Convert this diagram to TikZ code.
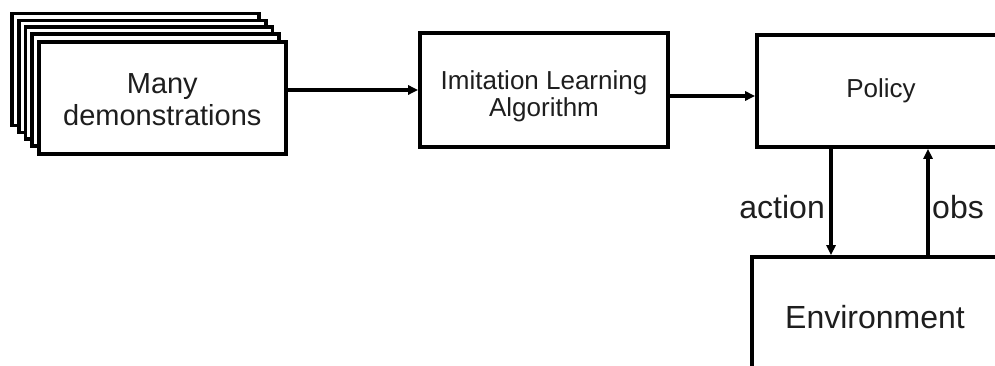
\documentclass[tikz,border=0pt]{standalone}
\usepackage{fontspec}
\setmainfont{Liberation Sans}
\usetikzlibrary{arrows.meta}
\definecolor{txt}{HTML}{1E1E1E}
\tikzset{
  box/.style={draw=black, fill=white, line width=3.6pt, align=center, text=txt, inner sep=0pt},
  arr/.style={line width=3.2pt, -{Triangle[length=10pt,width=9pt]}},
  lbl/.style={text=txt, inner sep=0pt, font=\fontsize{32}{34}\selectfont}
}
\begin{document}
\begin{tikzpicture}[x=1pt,y=-1pt]
\useasboundingbox (0,0) rectangle (995,366);
\clip (0,0) rectangle (995,366);
\fill[white] (0,0) rectangle (995,366);
% stacked demonstrations
\node[box, minimum width=247pt, minimum height=112pt] (demo1) at (135.5,69.5) {};
\node[box, minimum width=247pt, minimum height=112pt] (demo2) at (142.2,76.4) {};
\node[box, minimum width=247pt, minimum height=112pt] (demo3) at (148.9,83.3) {};
\node[box, minimum width=247pt, minimum height=112pt] (demo4) at (155.6,90.2) {};
\node[box, minimum width=247pt, minimum height=112pt] (demo5) at (162.3,98) {};
\node[text=txt, align=center, inner sep=0pt, font=\fontsize{29}{32}\selectfont] (demotext) at (162.3,100) {Many\\demonstrations};
% algorithm
\node[box, minimum width=248pt, minimum height=114pt] (IL) at (544,90) {};
\node[text=txt, align=center, inner sep=0pt, font=\fontsize{26}{27}\selectfont] (ILtext) at (544,96) {Imitation Learning\\Algorithm};
% policy
\node[box, minimum width=248pt, minimum height=112pt, font=\fontsize{26}{28}\selectfont] (Policy) at (881,91) {\raisebox{-3pt}{Policy}};
% environment
\node[box, minimum width=246pt, minimum height=120pt, font=\fontsize{32}{34}\selectfont] (Env) at (875,317) {Environment};
% connectors
\draw[arr] (IL.west -| demo5.east) -- (IL.west);
\draw[arr] ([yshift=-6pt]IL.east) -- ([yshift=-6pt]IL.east -| Policy.west);
\draw[arr] ([xshift=-50pt]Policy.south) -- ([xshift=-50pt]Policy.south |- Env.north);
\draw[arr] ([xshift=47pt]Policy.south |- Env.north) -- ([xshift=47pt]Policy.south);
% labels
\node[lbl, anchor=east] (action) at (825,207) {action};
\node[lbl, anchor=west] (obs) at (932,207) {obs};
\end{tikzpicture}
\end{document}
